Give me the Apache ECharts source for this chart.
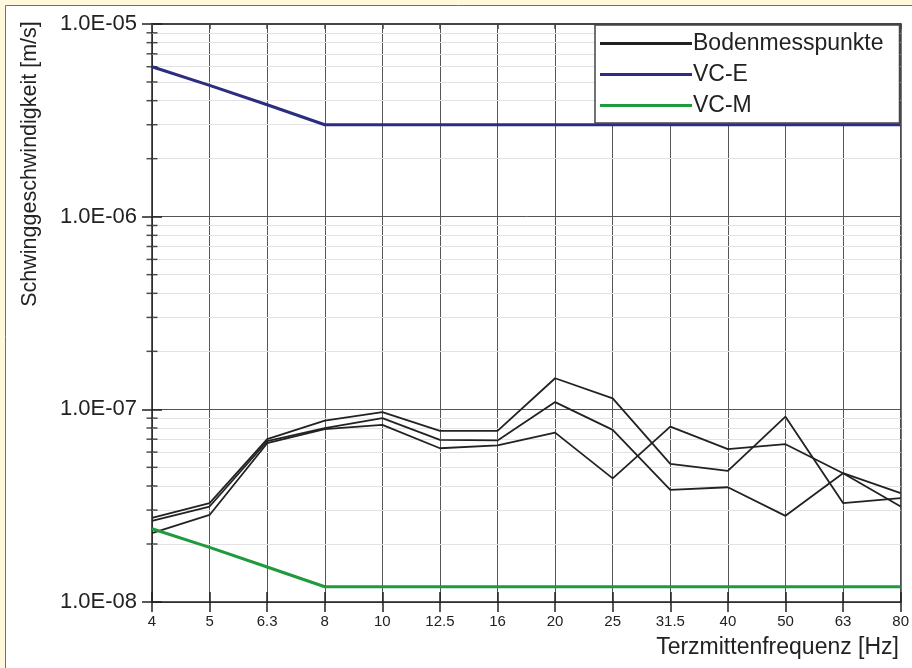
<!DOCTYPE html>
<html>
<head>
<meta charset="utf-8">
<script src="https://cdn.jsdelivr.net/npm/echarts@6/dist/echarts.min.js"></script>
<style>html,body{margin:0;padding:0;background:#fff;}#c{width:912px;height:668px;}</style>
</head>
<body>
<div id="c"></div>
<script>
const categories = ['4','5','6.3','8','10','12.5','16','20','25','31.5','40','50','63','80'];
const boden1 = [2.73e-8, 3.26e-8, 7.0e-8, 8.74e-8, 9.66e-8, 7.73e-8, 7.73e-8, 1.45e-7, 1.14e-7, 5.21e-8, 4.79e-8, 9.16e-8, 3.26e-8, 3.46e-8];
const boden2 = [2.64e-8, 3.13e-8, 6.83e-8, 7.98e-8, 9.0e-8, 6.94e-8, 6.9e-8, 1.09e-7, 7.82e-8, 3.82e-8, 3.94e-8, 2.80e-8, 4.66e-8, 3.67e-8];
const boden3 = [2.28e-8, 2.83e-8, 6.67e-8, 7.89e-8, 8.3e-8, 6.28e-8, 6.5e-8, 7.57e-8, 4.38e-8, 8.13e-8, 6.21e-8, 6.59e-8, 4.66e-8, 3.13e-8];
const vcE = [6.0e-6, 4.8e-6, 3.81e-6, 3.0e-6, 3.0e-6, 3.0e-6, 3.0e-6, 3.0e-6, 3.0e-6, 3.0e-6, 3.0e-6, 3.0e-6, 3.0e-6, 3.0e-6];
const vcM = [2.4e-8, 1.92e-8, 1.52e-8, 1.2e-8, 1.2e-8, 1.2e-8, 1.2e-8, 1.2e-8, 1.2e-8, 1.2e-8, 1.2e-8, 1.2e-8, 1.2e-8, 1.2e-8];
const yMinorTicks = [2e-8,3e-8,4e-8,5e-8,6e-8,7e-8,8e-8,9e-8,2e-7,3e-7,4e-7,5e-7,6e-7,7e-7,8e-7,9e-7,2e-6,3e-6,4e-6,5e-6,6e-6,7e-6,8e-6,9e-6];
const yMin = 1e-8, yMax = 1e-5;
const xName = 'Terzmittenfrequenz [Hz]';
const yName = 'Schwinggeschwindigkeit [m/s]';

const FONT = "'Liberation Sans', Arial, sans-serif";
const fmtY = v => { const e = Math.round(Math.log10(v)); return '1.0E-' + String(-e).padStart(2, '0'); };

const chart = echarts.init(document.getElementById('c'), null, {renderer: 'canvas'});
const blackLine = {color: '#222', width: 1.8};
const YEL = '#fff8dc';
chart.setOption({
  backgroundColor: '#ffffff',
  animation: false,
  textStyle: {fontFamily: FONT},
  grid: {left: 152, right: 11, top: 24, bottom: 66},
  graphic: [
    {type: 'rect', shape: {x: 0, y: 0, width: 912, height: 5}, style: {fill: YEL}},
    {type: 'rect', shape: {x: 0, y: 0, width: 5, height: 668}, style: {fill: YEL}},
    {type: 'line', shape: {x1: 5.5, y1: 5.5, x2: 912, y2: 5.5}, style: {stroke: '#707070', lineWidth: 1}},
    {type: 'line', shape: {x1: 5.5, y1: 5.5, x2: 5.5, y2: 668}, style: {stroke: '#707070', lineWidth: 1}},
    {type: 'text', z: 100, x: 30, y: 164, rotation: Math.PI / 2,
     style: {text: yName, fontSize: 21.5, fontFamily: FONT, fill: '#222', align: 'center', verticalAlign: 'middle'}},
    {type: 'text', z: 100, x: 899, y: 648,
     style: {text: xName, fontSize: 23, fontFamily: FONT, fill: '#222', align: 'right', verticalAlign: 'middle'}}
  ],
  legend: {
    z: 20,
    left: 595, top: 25, orient: 'vertical', align: 'left',
    backgroundColor: '#fff', borderColor: '#444', borderWidth: 1.5,
    padding: [7, 16, 6, 5], itemGap: 8,
    icon: 'rect', itemWidth: 92, itemHeight: 3,
    textStyle: {fontSize: 23, color: '#222', fontFamily: FONT, padding: [0, 0, 0, -4]},
    data: ['Bodenmesspunkte', 'VC-E', 'VC-M']
  },
  xAxis: [
    {type: 'category', data: categories, boundaryGap: false, position: 'bottom',
     axisLine: {lineStyle: {color: '#222', width: 1.5}},
     axisTick: {show: true, length: 10, lineStyle: {color: '#222', width: 1.5}},
     axisLabel: {fontSize: 15, color: '#222', margin: 12, fontFamily: FONT},
     splitLine: {show: true, lineStyle: {color: '#555', width: 1}}},
    {type: 'category', data: categories, boundaryGap: false, position: 'bottom',
     axisLine: {show: false}, axisLabel: {show: false}, splitLine: {show: false},
     axisTick: {show: true, inside: true, length: 10, lineStyle: {color: '#222', width: 1.5}}},
    {type: 'category', data: categories, boundaryGap: false, position: 'top',
     axisLine: {show: true, lineStyle: {color: '#444', width: 2}}, axisLabel: {show: false}, splitLine: {show: false},
     axisTick: {show: true, inside: true, length: 5, lineStyle: {color: '#444', width: 1.5}}}
  ],
  yAxis: [
    {type: 'log', logBase: 10, min: yMin, max: yMax, splitNumber: 3, position: 'left',
     axisLine: {show: true, lineStyle: {color: '#222', width: 1.5}},
     axisTick: {show: true, length: 10, lineStyle: {color: '#222', width: 1.5}},
     axisLabel: {fontSize: 22, color: '#222', margin: 15, formatter: fmtY, fontFamily: FONT},
     splitLine: {show: true, lineStyle: {color: '#555', width: 1}}},
    {type: 'log', logBase: 10, min: yMin, max: yMax, splitNumber: 3, position: 'left',
     axisLine: {show: false}, axisLabel: {show: false}, splitLine: {show: false},
     axisTick: {show: true, inside: true, length: 10, lineStyle: {color: '#222', width: 1.5}}},
    {type: 'log', logBase: 10, min: yMin, max: yMax, splitNumber: 3, position: 'right',
     axisLine: {show: true, lineStyle: {color: '#444', width: 1.5}}, axisLabel: {show: false}, splitLine: {show: false},
     axisTick: {show: false}}
  ],
  series: [
    {name: 'minor', type: 'scatter', silent: true, z: 2,
     data: yMinorTicks.map(v => [categories[0], v]),
     symbol: 'rect', symbolSize: [11, 1.5], itemStyle: {color: '#222'}},
    {name: 'minorGrid', type: 'line', silent: true, z: 1, data: [], showSymbol: false,
     markLine: {silent: true, z: 1, symbol: ['none', 'none'], label: {show: false}, animation: false,
       lineStyle: {color: '#e2e2e2', width: 1, type: 'solid'},
       data: yMinorTicks.map(v => [{coord: [categories[0], v]}, {coord: [categories[categories.length - 1], v]}])}},
    {name: 'VC-E', type: 'line', data: vcE, showSymbol: false, z: 5, lineStyle: {color: '#2b2d80', width: 3}, itemStyle: {color: '#2b2d80'}},
    {name: 'VC-M', type: 'line', data: vcM, showSymbol: false, z: 5, lineStyle: {color: '#1f9a3c', width: 3}, itemStyle: {color: '#1f9a3c'}},
    {name: 'Bodenmesspunkte', type: 'line', data: boden1, showSymbol: false, z: 4, lineStyle: blackLine, itemStyle: {color: '#222'}},
    {name: 'Bodenmesspunkte', type: 'line', data: boden2, showSymbol: false, z: 4, lineStyle: blackLine, itemStyle: {color: '#222'}},
    {name: 'Bodenmesspunkte', type: 'line', data: boden3, showSymbol: false, z: 4, lineStyle: blackLine, itemStyle: {color: '#222'}}
  ]
});
</script>
</body>
</html>
